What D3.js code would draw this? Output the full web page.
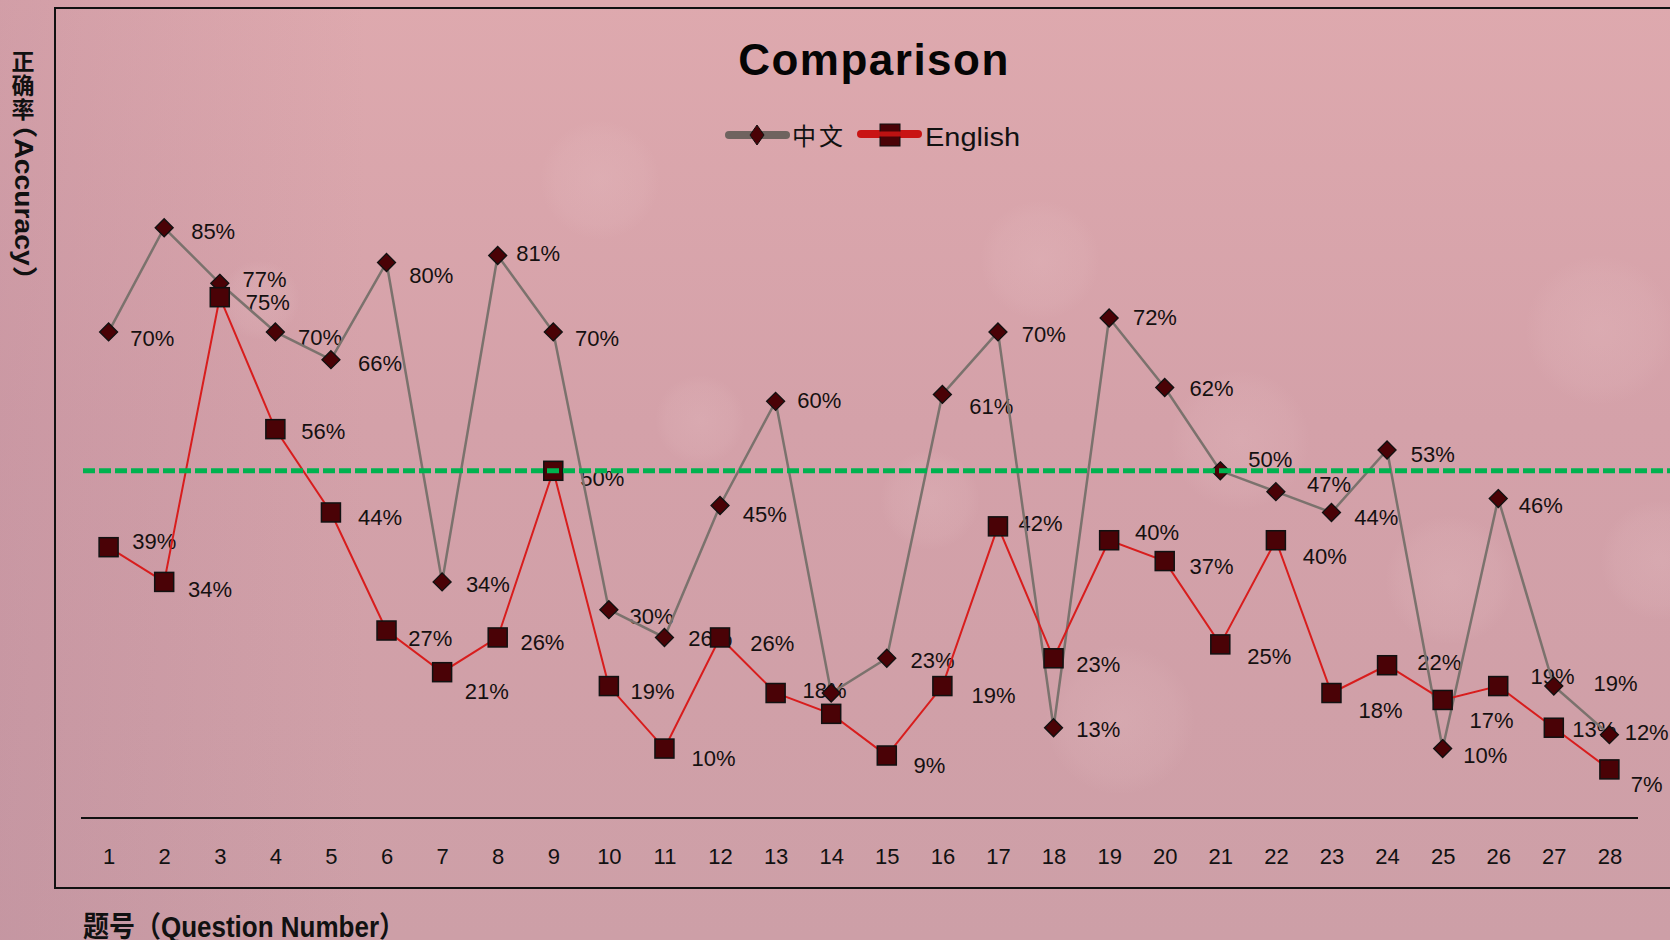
<!DOCTYPE html>
<html><head><meta charset="utf-8">
<script src="https://cdn.jsdelivr.net/npm/d3@7"></script>
<style>html,body{margin:0;padding:0;overflow:hidden;background:#d6a3aa}</style>
</head><body><svg id="chart" width="1670" height="940"></svg>
<script>
// ---- data ----
const questions = [1,2,3,4,5,6,7,8,9,10,11,12,13,14,15,16,17,18,19,20,21,22,23,24,25,26,27,28];
const seriesNames = ["中文", "English"];
const cnValues = [70,85,77,70,66,80,34,81,70,30,26,45,60,18,23,61,70,13,72,62,50,47,44,53,10,46,19,12];
const enValues = [39,34,75,56,44,27,21,26,50,19,10,26,18,15,9,19,42,23,40,37,25,40,18,22,17,19,13,7];
const cnShowLabel = [1,1,1,1,1,1,1,1,1,1,1,1,1,0,1,1,1,1,1,1,1,1,1,1,1,1,1,1];
const enShowLabel = [1,1,1,1,1,1,1,1,1,1,1,1,1,0,1,1,1,1,1,1,1,1,1,1,1,1,1,1];
const referenceValue = 50;
const titleText = "Comparison";
const yTitleCJK = "正确率";
const yTitleLatin = "（Accuracy）";
const xTitle = "题号（Question Number）";
// label nudges (relative to marker, style only)
const cnDx = [41,46,42,42,46,42,43,38,41,40,43,42,41,0,43,46,43,42,43,44,47,50,42,43,40,40,58,35];
const cnDy = [6,3,-4,5,3,12,2,-2,6,6,1,8,-1,0,2,11,2,1,-1,1,-11,-7,4,4,6,6,-3,-2];
const enDx = [43,43,45,45,46,41,42,42,46,41,46,49,46,0,40,48,40,42,45,44,46,46,46,49,46,51,38,35];
const enDy = [-6,7,5,2,4,7,18,4,7,5,9,5,-3,0,9,8,-3,5,-8,5,11,15,16,-3,19,-9,1,14];

const W = 1670, H = 940, k = 1.065;
const svg = d3.select("#chart");
const defs = svg.append("defs");

// background
const bg = defs.append("linearGradient").attr("id","bg").attr("x1",0).attr("y1",0).attr("x2",0).attr("y2",1);
bg.append("stop").attr("offset","0%").attr("stop-color","#dea9ae");
bg.append("stop").attr("offset","45%").attr("stop-color","#d4a1a9");
bg.append("stop").attr("offset","100%").attr("stop-color","#cd9fa7");
const side = defs.append("linearGradient").attr("id","side").attr("x1",0).attr("y1",0).attr("x2",1).attr("y2",0);
side.append("stop").attr("offset","0%").attr("stop-color","#a8788f").attr("stop-opacity",0.22);
side.append("stop").attr("offset","22%").attr("stop-color","#a8788f").attr("stop-opacity",0);
const bok = defs.append("radialGradient").attr("id","bok");
bok.append("stop").attr("offset","0%").attr("stop-color","#eccacd").attr("stop-opacity",0.2);
bok.append("stop").attr("offset","75%").attr("stop-color","#eccacd").attr("stop-opacity",0.1);
bok.append("stop").attr("offset","100%").attr("stop-color","#eccacd").attr("stop-opacity",0);
svg.append("rect").attr("width",W).attr("height",H).attr("fill","url(#bg)");
svg.append("rect").attr("width",W).attr("height",H).attr("fill","url(#side)");
const decor = [[1600,330,75],[1040,260,60],[600,180,60],[1240,440,70],[1120,720,75],[1450,580,65],[1660,560,60],[930,500,50],[260,300,40],[700,420,45]];
svg.append("g").selectAll("circle").data(decor).join("circle")
  .attr("cx",d=>d[0]).attr("cy",d=>d[1]).attr("r",d=>d[2]).attr("fill","url(#bok)");

// scales
const x = d3.scaleLinear().domain([1,28]).range([108.6,1609.4]);
const y = d3.scaleLinear().domain([0,100]).range([818,123.6]);

// frame
svg.append("path").attr("d",`M${W},8 H55 V888 H${W}`).attr("fill","none").attr("stroke","#111").attr("stroke-width",2);
svg.append("line").attr("x1",81).attr("x2",1638).attr("y1",y(0)).attr("y2",y(0)).attr("stroke","#111").attr("stroke-width",1.8);

// x axis ticks
const ax = svg.append("g").attr("transform",`translate(0,${y(0)})`)
  .call(d3.axisBottom(x).tickValues(questions).tickSize(0).tickPadding(30).tickFormat(d3.format("d")));
ax.select(".domain").remove();
ax.selectAll("text").attr("font-family","'Liberation Sans Narrow','Liberation Sans',Arial,sans-serif")
  .attr("font-size",22).attr("fill","#111");

// labels (below lines)
const labFont = "'Liberation Sans',Arial,sans-serif";
const lg = svg.append("g").attr("font-family",labFont).attr("font-size",22).attr("fill","#151010").attr("text-anchor","middle");
cnValues.forEach((v,i)=>{ if(!cnShowLabel[i]) return;
  lg.append("text").attr("x",x(questions[i])+cnDx[i]*k).attr("y",y(v)+cnDy[i]*k).attr("dy","0.36em").text(v+"%"); });
enValues.forEach((v,i)=>{ if(!enShowLabel[i]) return;
  lg.append("text").attr("x",x(questions[i])+enDx[i]*k).attr("y",y(v)+enDy[i]*k).attr("dy","0.36em").text(v+"%"); });

const line = d3.line().x((d,i)=>x(questions[i])).y(d=>y(d));
const markFill = "#4a0206";
// Chinese series
svg.append("path").datum(cnValues).attr("d",line).attr("fill","none").attr("stroke","#7b726d").attr("stroke-width",2.5);
svg.append("g").selectAll("path").data(cnValues).join("path")
  .attr("transform",(d,i)=>`translate(${x(questions[i])},${y(d)})`)
  .attr("d","M0,-9 L9,0 L0,9 L-9,0Z").attr("fill",markFill).attr("stroke","#111").attr("stroke-width",1.3);
// English series
svg.append("path").datum(enValues).attr("d",line).attr("fill","none").attr("stroke","#d81d1d").attr("stroke-width",2);
svg.append("g").selectAll("rect").data(enValues).join("rect")
  .attr("x",(d,i)=>x(questions[i])-9.5).attr("y",d=>y(d)-9.5).attr("width",19).attr("height",19)
  .attr("fill",markFill).attr("stroke","#111").attr("stroke-width",1.5);

// reference line
svg.append("line").attr("x1",83).attr("x2",W).attr("y1",y(referenceValue)).attr("y2",y(referenceValue))
  .attr("stroke","#00b24f").attr("stroke-width",5).attr("stroke-dasharray","12,4");

// title
svg.append("text").attr("x",874).attr("y",75).attr("text-anchor","middle")
  .attr("font-family","'Liberation Sans',Arial,sans-serif").attr("font-weight","bold").attr("font-size",44)
  .attr("letter-spacing",1.5).attr("fill","#050505").text(titleText);

// legend
const leg = svg.append("g");
leg.append("line").attr("x1",729).attr("x2",786).attr("y1",135).attr("y2",135).attr("stroke","#6f635f").attr("stroke-width",8).attr("stroke-linecap","round");
leg.append("path").attr("transform","translate(757,135)").attr("d","M0,-10 L7,0 L0,10 L-7,0Z").attr("fill",markFill).attr("stroke","#111").attr("stroke-width",1);
leg.append("text").attr("x",792).attr("y",145).attr("font-family","'Noto Sans CJK SC',sans-serif").attr("font-size",24).attr("letter-spacing",3).attr("fill","#111").text(seriesNames[0]);
leg.append("line").attr("x1",861).attr("x2",918).attr("y1",134).attr("y2",134).attr("stroke","#c91414").attr("stroke-width",8).attr("stroke-linecap","round");
leg.append("rect").attr("x",880).attr("y",124).attr("width",20).attr("height",22).attr("fill",markFill).attr("stroke","#111").attr("stroke-width",1);
leg.append("line").attr("x1",861).attr("x2",918).attr("y1",134).attr("y2",134).attr("stroke","#c91414").attr("stroke-width",5).attr("stroke-linecap","round").attr("opacity",0.9);
leg.append("text").attr("x",925).attr("y",146).attr("font-family","'Liberation Sans',Arial,sans-serif").attr("font-size",26)
  .attr("textLength",95).attr("lengthAdjust","spacingAndGlyphs").attr("fill","#111").text(seriesNames[1]);

// y axis title: CJK upright stacked, Latin rotated
svg.append("text").attr("x",23).attr("y",50).style("writing-mode","vertical-rl")
  .attr("font-family","'Noto Sans CJK SC',sans-serif").attr("font-weight","bold").attr("font-size",23)
  .attr("letter-spacing",1).attr("fill","#111").text(yTitleCJK);
svg.append("text").attr("transform","translate(15,110) rotate(90)")
  .attr("font-family","'Liberation Sans','Noto Sans CJK SC',sans-serif").attr("font-weight","bold").attr("font-size",25)
  .attr("textLength",184).attr("lengthAdjust","spacingAndGlyphs").attr("fill","#111").text(yTitleLatin);
// x axis title
svg.append("text").attr("x",83).attr("y",937)
  .attr("font-family","'Liberation Sans Narrow','Liberation Sans','Noto Sans CJK SC',sans-serif").attr("font-weight","bold").attr("font-size",29)
  .attr("textLength",322).attr("lengthAdjust","spacingAndGlyphs").attr("fill","#111").text(xTitle);
</script></body></html>
